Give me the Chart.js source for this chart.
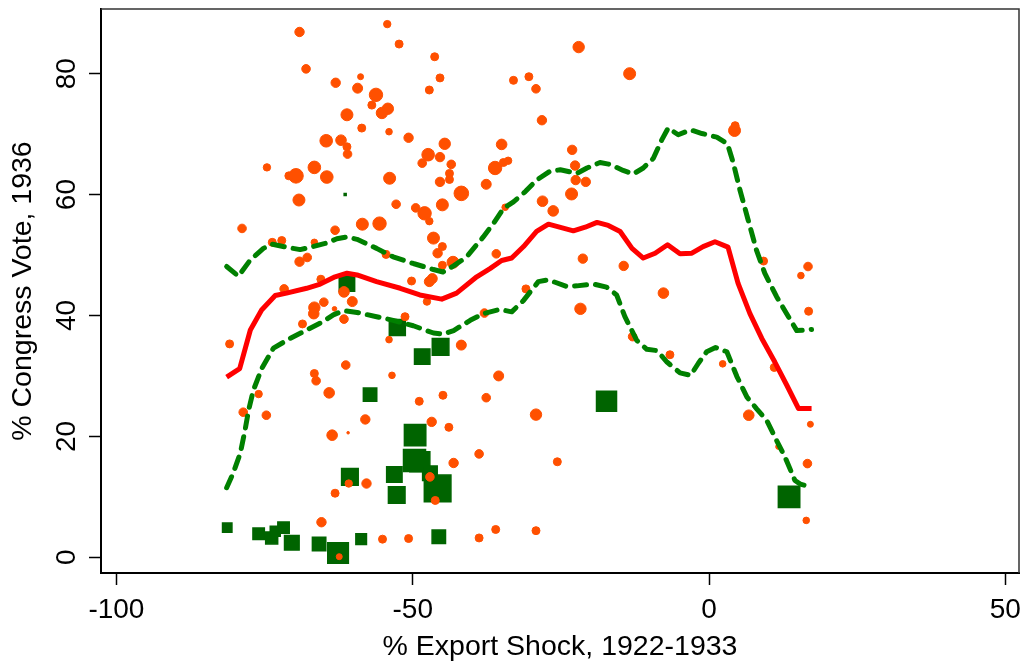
<!DOCTYPE html>
<html lang="en">
<head>
<meta charset="UTF-8">
<title>Congress Vote 1936 vs Export Shock</title>
<script src="https://cdn.jsdelivr.net/npm/chart.js"></script>
<style>
  body { margin: 0; background: #fff; }
  canvas { display: block; }
</style>
</head>
<body>
<canvas id="chart" width="1025" height="663"></canvas>
<script>
// tick labels
const xTicks = [-100, -50, 0, 50];
const yTicks = [0, 20, 40, 60, 80];

// orange circles: export shock, congress vote, weight (marker radius)
const orangeX = [-69.1, -54.3, -52.3, -46.3, -68.0, -45.4, -58.8, -63.0, -59.3, -56.2,
  -47.2, -56.9, -54.2, -55.2, -61.1, -58.6, -54.0, -64.6, -62.1, -50.7,
  -44.6, -61.1, -61.0, -47.4, -45.4, -48.4, -43.5, -36.1, -74.6, -69.7,
  -70.9, -66.6, -64.5, -53.9, -43.8, -45.4, -43.8, -41.8, -37.6, -69.2,
  -52.8, -49.5, -48.0, -45.0, -47.2, -58.5, -55.6, -78.8, -63.1, -46.5,
  -45.0, -45.8, -43.2, -35.9, -73.7, -72.1, -66.6, -69.1, -67.8, -54.5,
  -45.0, -50.2, -46.7, -47.2, -65.5, -71.7, -61.6, -66.6, -66.7, -65.0,
  -60.2, -63.2, -61.6, -68.6, -47.6, -51.3, -37.9, -80.9, -54.0, -41.8,
  -61.3, -66.6, -66.3, -53.5, -35.5, -64.1, -76.0, -78.6, -74.7, -48.9,
  -44.9, -37.6, -58.0, -46.8, -43.9, -63.6, -60.9, -38.8, -43.1, -47.1,
  -60.8, -57.8, -63.1, -46.2, -65.4, -55.1, -50.7, -38.8, -36.0, -62.4,
  -22.0, -13.4, -33.0, -30.4, -29.2, -28.2, 4.3, 4.4, -35.0, -34.7,
  -33.9, -23.1, -22.6, -22.5, -20.8, -23.2, -28.1, -26.3, -34.4, -21.3,
  -14.4, -7.7, -30.9, 9.2, 16.7, 15.5, -21.7, -12.9, -6.6, 2.3,
  16.8, -29.2, 6.7, 11.0, 17.1, 11.7, 16.6, -25.6, -29.2, 16.4];
const orangeY = [86.9, 88.2, 84.9, 82.8, 80.8, 79.3, 79.5, 78.5, 77.6, 76.5,
  77.3, 74.8, 74.2, 73.5, 73.2, 71.0, 70.4, 68.9, 69.0, 69.4,
  68.4, 67.9, 66.7, 66.6, 66.2, 65.2, 65.0, 64.4, 64.5, 63.1,
  63.1, 64.5, 62.9, 62.7, 63.5, 62.1, 62.5, 60.2, 61.7, 59.1,
  58.4, 57.8, 56.9, 58.3, 55.6, 55.1, 55.2, 54.4, 54.1, 52.8,
  51.4, 50.3, 48.8, 50.2, 52.1, 52.4, 52.1, 48.9, 49.6, 50.1,
  48.3, 45.7, 46.1, 45.6, 46.0, 44.4, 43.9, 41.3, 40.3, 42.2,
  42.3, 41.1, 39.4, 38.6, 42.3, 39.8, 40.4, 35.3, 36.0, 35.1,
  31.8, 30.4, 29.2, 30.1, 30.0, 27.2, 27.0, 24.0, 23.5, 25.8,
  26.8, 26.4, 22.8, 22.4, 21.5, 20.2, 20.6, 17.1, 15.6, 13.3,
  12.2, 12.2, 10.6, 9.4, 5.8, 3.0, 3.1, 3.2, 4.6, 0.1,
  84.4, 80.0, 78.9, 79.5, 77.5, 72.3, 70.6, 71.4, 68.3, 65.3,
  65.6, 67.4, 64.8, 62.4, 62.1, 60.1, 58.9, 57.3, 57.9, 49.4,
  48.2, 43.7, 44.4, 49.0, 48.1, 46.6, 41.1, 36.5, 33.5, 32.0,
  40.7, 23.6, 23.5, 31.4, 22.0, 18.3, 15.5, 15.8, 4.4, 6.1];
const orangeW = [4.7, 3.7, 4, 4, 4.3, 4, 3, 4.7, 5, 6.7,
  4, 4, 5.7, 5.7, 6, 4, 3.3, 6.3, 5.3, 4.7,
  5.7, 4, 4.3, 6.3, 4.7, 4.3, 4.3, 6.7, 3.7, 7.3,
  4, 6.3, 6.3, 6, 4, 4.7, 4, 7.3, 5, 6,
  4.3, 4.3, 6.7, 6, 3.7, 6, 6.7, 4.3, 4.3, 6,
  4, 4.7, 6, 4.3, 4, 4, 3.3, 4.7, 4.3, 4,
  4, 4, 5, 5, 4, 4.3, 5.3, 5.7, 5.3, 4.3,
  5, 2.3, 4.3, 4, 3.7, 4, 4.3, 4, 3.3, 5,
  4.3, 4, 4.3, 3.3, 5, 5.3, 3.7, 4.3, 4.3, 4,
  4, 4.3, 4.7, 4.7, 4, 5.3, 1.3, 4.3, 4.7, 4.3,
  3.7, 4.7, 4, 4, 4.7, 4, 4, 4, 4, 3,
  5.7, 6, 4, 4, 4.3, 4.7, 6, 4, 5.3, 4,
  3.7, 4.7, 4.7, 4.7, 4.7, 6, 5.3, 5.3, 3.3, 4.7,
  4.7, 5.3, 4, 4, 4.3, 3.3, 5.7, 4.3, 4, 3.3,
  4, 5.7, 5.3, 4, 3, 2.7, 4.3, 4, 4, 3.3];

// green squares: export shock, congress vote, weight (half side)
const greenX = [-81.3, -76.0, -73.8, -73.2, -71.8, -70.4, -65.8, -62.6, -58.7, -45.6,
  -52.6, -48.4, -45.3, -57.2, -49.6, -49.7, -48.8, -47.1, -45.8, -53.1,
  -52.7, -60.6, -61.1, -17.3, 13.5, -61.4];
const greenY = [4.9, 3.9, 3.2, 4.3, 4.9, 2.4, 2.2, 0.7, 3.0, 3.4,
  38.0, 33.2, 34.8, 26.9, 20.2, 16.0, 15.8, 13.9, 11.4, 13.7,
  10.3, 13.3, 45.3, 25.8, 10.0, 60.0];
const greenW = [4.7, 5.7, 6, 5, 5.7, 7.3, 6.7, 10.3, 5.3, 6.7,
  8, 7.7, 8.3, 6.7, 10.7, 11, 10, 7.3, 13.3, 7.7,
  8.3, 8.3, 7.7, 10, 10.7, 1];

// local fit
const fitX = [-81.4, -79.2, -77.4, -75.5, -73.2, -71.3, -67.9, -65.6, -63.1, -61.1,
  -59.4, -56.1, -52.1, -48.8, -45.1, -42.6, -39.2, -36.9, -35.0, -33.3,
  -31.3, -29.1, -27.1, -22.9, -20.9, -18.9, -17.0, -15.0, -13.0, -11.1,
  -9.1, -7.0, -4.9, -2.9, -1.0, 1.0, 3.2, 4.9, 6.9, 8.9,
  11.1, 13.1, 15.1, 17.3];
const fitY = [29.8, 31.2, 37.6, 40.9, 43.3, 43.7, 44.5, 45.2, 46.4, 47.0,
  46.7, 45.6, 44.5, 43.4, 42.7, 43.7, 46.4, 47.8, 49.1, 49.5,
  51.4, 53.9, 55.1, 54.0, 54.6, 55.4, 54.9, 53.9, 51.1, 49.5,
  50.3, 51.7, 50.2, 50.3, 51.4, 52.2, 51.3, 45.3, 40.3, 36.2,
  32.3, 28.5, 24.6, 24.6];

// confidence band
const upperX = [-81.4, -79.4, -77.4, -75.2, -73.8, -71.3, -69.0, -66.8, -64.5, -62.8,
  -61.1, -59.4, -56.1, -53.3, -49.9, -46.5, -44.9, -43.1, -40.9, -38.1,
  -36.4, -34.7, -33.0, -31.0, -29.1, -26.8, -25.1, -22.3, -20.6, -18.4,
  -16.7, -14.5, -12.8, -11.1, -9.4, -8.0, -6.9, -5.2, -3.1, -1.2,
  1.3, 3.1, 4.1, 5.2, 6.6, 8.0, 9.4, 11.4, 13.4, 14.8,
  17.3];
const upperY = [48.1, 46.5, 49.2, 51.1, 51.8, 51.3, 50.9, 51.4, 52.0, 52.7,
  53.0, 52.6, 51.1, 49.7, 48.6, 47.6, 47.2, 48.2, 49.7, 53.0,
  55.2, 57.7, 58.8, 60.5, 62.4, 63.9, 64.1, 63.5, 64.4, 65.3,
  65.0, 64.0, 63.4, 64.4, 66.0, 69.0, 71.0, 69.9, 70.7, 70.1,
  69.5, 68.4, 65.2, 60.8, 55.8, 50.8, 47.0, 43.1, 39.8, 37.5,
  37.7];
const lowerX = [-81.4, -80.3, -79.1, -78.3, -77.7, -76.9, -75.5, -73.5, -70.7, -67.9,
  -65.1, -63.4, -61.7, -59.4, -56.1, -53.3, -49.9, -46.5, -44.9, -43.1,
  -40.3, -38.1, -35.3, -33.3, -31.3, -28.8, -27.1, -24.0, -22.3, -19.5,
  -17.3, -15.6, -14.2, -12.2, -10.5, -8.8, -7.1, -4.9, -3.1, -1.8,
  -0.4, 1.1, 3.0, 4.7, 6.4, 8.0, 9.7, 11.1, 12.8, 14.5,
  15.4, 17.3];
const lowerY = [11.5, 13.9, 17.2, 21.0, 24.3, 27.6, 31.2, 34.6, 36.2, 37.6,
  39.0, 40.1, 40.8, 40.5, 39.8, 39.2, 38.3, 37.1, 36.9, 37.5,
  39.2, 40.3, 41.0, 40.6, 42.5, 45.6, 45.9, 44.8, 44.9, 45.2,
  44.7, 43.4, 39.8, 35.9, 34.4, 34.2, 32.3, 30.5, 30.1, 32.1,
  34.0, 34.7, 34.0, 29.9, 26.5, 24.6, 22.7, 19.9, 16.6, 12.7,
  12.1, 11.6];

const fontFamily = "'Liberation Sans', Arial, sans-serif";

function pts(xs, ys) {
  return xs.map((x, i) => ({ x: x, y: ys[i] }));
}

// top and right edges of the plot box
const frame = {
  id: 'frame',
  afterDraw(chart) {
    const ctx = chart.ctx, a = chart.chartArea;
    ctx.save();
    ctx.strokeStyle = '#333';
    ctx.lineWidth = 1.5;
    ctx.beginPath();
    ctx.moveTo(a.left, a.top);
    ctx.lineTo(a.right, a.top);
    ctx.lineTo(a.right, a.bottom);
    ctx.stroke();
    ctx.restore();
  }
};

const axisGrid = { drawOnChartArea: false, drawTicks: true, tickLength: 12, tickColor: '#000', tickWidth: 1.5 };
const axisBorder = { display: true, color: '#000', width: 2 };

function bandLine(xs, ys) {
  return {
    type: 'line',
    data: pts(xs, ys),
    borderColor: '#008000',
    borderWidth: 5,
    borderDash: [12, 9],
    borderCapStyle: 'round',
    borderJoinStyle: 'round',
    pointRadius: 0,
    tension: 0,
    fill: false,
    order: 2
  };
}

new Chart(document.getElementById('chart'), {
  type: 'scatter',
  data: {
    datasets: [
      {
        type: 'line',
        data: pts(fitX, fitY),
        borderColor: '#ff0000',
        borderWidth: 5,
        pointRadius: 0,
        tension: 0,
        fill: false,
        borderJoinStyle: 'round',
        order: 1
      },
      bandLine(upperX, upperY),
      bandLine(lowerX, lowerY),
      {
        type: 'bubble',
        data: orangeX.map((x, i) => ({ x: x, y: orangeY[i], r: orangeW[i] })),
        backgroundColor: '#ff5000',
        borderColor: '#ff5000',
        borderWidth: 1,
        order: 3
      },
      {
        type: 'bubble',
        data: greenX.map((x, i) => ({ x: x, y: greenY[i], r: greenW[i] / Math.SQRT1_2 })),
        backgroundColor: '#006400',
        borderColor: '#006400',
        borderWidth: 1.5,
        pointStyle: 'rect',
        order: 4
      }
    ]
  },
  options: {
    responsive: false,
    animation: false,
    devicePixelRatio: 1,
    layout: { autoPadding: false, padding: { top: 9, right: 6, left: 0, bottom: 0 } },
    plugins: { legend: { display: false }, tooltip: { enabled: false } },
    scales: {
      x: {
        type: 'linear',
        min: -102.6,
        max: 52.3,
        afterBuildTicks: s => { s.ticks = xTicks.map(v => ({ value: v })); },
        afterFit: s => { s.height = 90; s.paddingLeft = 0; s.paddingRight = 0; },
        grid: axisGrid,
        border: axisBorder,
        ticks: { color: '#000', font: { family: fontFamily, size: 28 }, padding: 8, maxRotation: 0, autoSkip: false },
        title: {
          display: true,
          text: '% Export Shock, 1922-1933',
          color: '#000',
          font: { family: fontFamily, size: 28.5, lineHeight: 1 },
          padding: { top: 0, bottom: 2 }
        }
      },
      y: {
        type: 'linear',
        min: -2.6,
        max: 90.7,
        afterBuildTicks: s => { s.ticks = yTicks.map(v => ({ value: v })); },
        afterFit: s => { s.width = 101; s.paddingTop = 0; s.paddingBottom = 0; },
        grid: axisGrid,
        border: axisBorder,
        ticks: { color: '#000', font: { family: fontFamily, size: 28 }, padding: 6, minRotation: 90, maxRotation: 90, crossAlign: 'center', autoSkip: false },
        title: {
          display: true,
          text: '% Congress Vote, 1936',
          color: '#000',
          font: { family: fontFamily, size: 28.5, lineHeight: 1 },
          padding: { top: 9, bottom: 0 }
        }
      }
    }
  },
  plugins: [frame]
});
</script>
</body>
</html>
